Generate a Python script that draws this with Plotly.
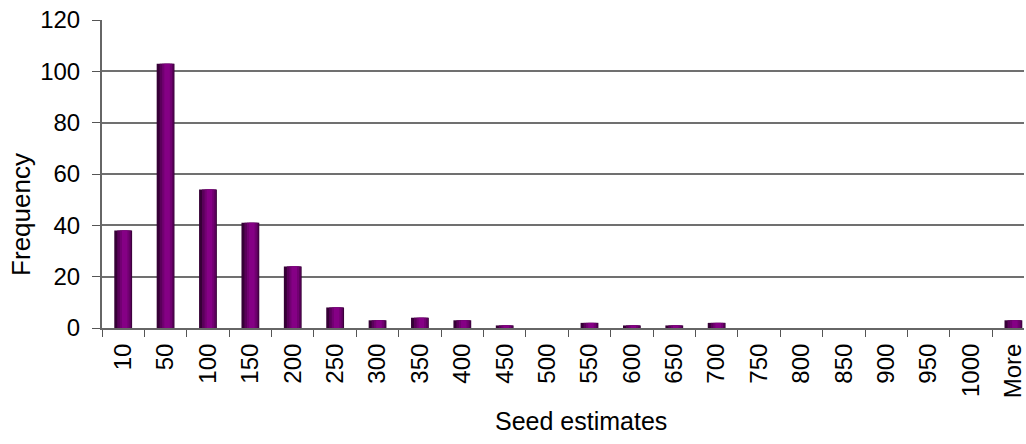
import plotly.graph_objects as go

# Histogram bins (upper bin edges) and counts
bins = ["10", "50", "100", "150", "200", "250", "300", "350", "400", "450", "500",
        "550", "600", "650", "700", "750", "800", "850", "900", "950", "1000", "More"]
frequency = [38, 103, 54, 41, 24, 8, 3, 4, 3, 1, 0, 2, 1, 1, 2, 0, 0, 0, 0, 0, 0, 3]

y_ticks = [0, 20, 40, 60, 80, 100, 120]

FONT = "Liberation Sans, Arial, sans-serif"

fig = go.Figure()

# Layered bars give a shaded, cylinder-like look: dark base, lighter narrower cores
layers = [
    (0.42, 0.0, "#360036"),
    (0.33, 0.025, "#5a005a"),
    (0.23, 0.035, "#720072"),
    (0.13, 0.035, "#850085"),
]
for width, shift, color in layers:
    fig.add_trace(go.Bar(
        x=bins,
        y=frequency,
        width=width,
        offset=-width / 2 + shift,
        marker=dict(color=color, line=dict(width=0)),
        hoverinfo="skip",
        showlegend=False,
    ))

fig.update_layout(
    width=1026,
    height=444,
    margin=dict(l=102, r=0, t=20, b=116),
    paper_bgcolor="white",
    plot_bgcolor="white",
    barmode="overlay",
    font=dict(family=FONT, size=24, color="black"),
    showlegend=False,
    annotations=[
        dict(text="Seed estimates", xref="paper", yref="paper",
             x=0.52, y=-0.302, xanchor="center", yanchor="middle",
             showarrow=False, font=dict(size=25)),
        dict(text="Frequency", xref="paper", yref="paper",
             x=-0.088, y=0.37, xanchor="center", yanchor="middle",
             textangle=-90, showarrow=False, font=dict(size=26)),
    ],
)

fig.update_xaxes(
    type="category",
    range=[-0.5, 21.25],
    tickson="boundaries",
    ticks="outside",
    ticklen=7,
    tickcolor="#555555",
    tickangle=-90,
    tickfont=dict(size=24),
    ticklabelstandoff=4,
    showline=True,
    linecolor="#666666",
    linewidth=2,
    showgrid=False,
)

fig.update_yaxes(
    range=[0, 120],
    tickvals=y_ticks,
    ticks="outside",
    ticklen=8,
    tickcolor="#555555",
    tickfont=dict(size=24),
    ticklabelstandoff=7,
    showline=True,
    linecolor="#666666",
    linewidth=2,
    showgrid=True,
    gridcolor="#707070",
    gridwidth=1.5,
    zeroline=False,
)

fig.write_html("out.html")
